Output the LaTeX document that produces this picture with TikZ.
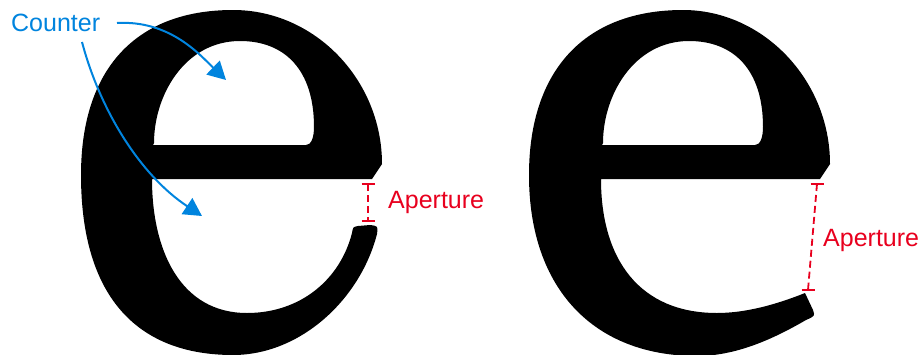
\documentclass[tikz,border=0pt]{standalone}
\usepackage{fontspec}
\setmainfont{Liberation Sans}
\usetikzlibrary{arrows.meta}
\definecolor{cblue}{RGB}{0,132,222}
\definecolor{cred}{RGB}{232,0,30}
\begin{document}
\begin{tikzpicture}[x=1pt,y=-1pt,
  glyph/.style={fill=black,even odd rule},
  counterarrow/.style={draw=cblue,line width=2pt,-{Triangle[length=18pt,width=19pt]}},
  apline/.style={draw=cred,line width=1.8pt,dash pattern=on 7pt off 4pt},
  apcap/.style={draw=cred,line width=1.8pt},
  lbl/.style={font=\fontsize{25}{30}\selectfont,inner sep=0pt,anchor=base west}]
\useasboundingbox (0,0) rectangle (922,354);
\begin{scope}
\clip (0,0) rectangle (922,354);
% left e
\fill[glyph] (372,179) -- (382,164)
  .. controls (382,80) and (315,10) .. (233,10)
  .. controls (135,10) and (81,70) .. (81,175)
  .. controls (81,300) and (140,355) .. (233,355)
  .. controls (300,355) and (360,300) .. (377,234)
  .. controls (378,226) .. (370,225) -- (358,226) .. controls (353,227) .. (352,233)
  .. controls (340,280) and (300,313) .. (247,313)
  .. controls (180,313) and (152,250) .. (152,179) -- cycle
  (153,145) -- (306,145) .. controls (311,145) and (314,138) .. (314,127)
  .. controls (314,70) and (285,41) .. (240,41)
  .. controls (185,41) and (154,95) .. (154,143) -- cycle;
% right e
\fill[glyph] (820,179) -- (830,164)
  .. controls (830,80) and (763,10) .. (683,10)
  .. controls (585,10) and (529,70) .. (529,175)
  .. controls (529,290) and (595,356) .. (697,356)
  .. controls (740,356) and (780,335) .. (806,320)
  .. controls (815,316) .. (813,310) -- (805,293)
  .. controls (775,305) and (745,313) .. (717,313)
  .. controls (640,313) and (601,260) .. (601,179) -- cycle
  (602,145) -- (755,145) .. controls (760,145) and (763,138) .. (763,127)
  .. controls (763,70) and (734,41) .. (689,41)
  .. controls (634,41) and (603,95) .. (603,143) -- cycle;
\end{scope}
% labels
\node[lbl,text=cblue] (counter) at (11,31.5) {Counter};
\node[lbl,text=cred] (ap1) at (388,208) {Aperture};
\node[lbl,text=cred] (ap2) at (823,246.5) {Aperture};
% counter arrows
\coordinate (c1s) at (117,23);
\coordinate (c1e) at (226,80);
\coordinate (c2s) at (82,42);
\coordinate (c2e) at (202,216);
\draw[counterarrow] (c1s) .. controls (170,20) and (200,55) .. (c1e);
\draw[counterarrow] (c2s) .. controls (100,110) and (140,175) .. (c2e);
% aperture markers
\coordinate (a1t) at (368,184);
\coordinate (a1b) at (368,221);
\coordinate (a2t) at (817,184);
\coordinate (a2b) at (808,290);
\draw[apline] (a1t) -- (a1b);
\draw[apcap] ([xshift=-6.5pt]a1t) -- ([xshift=6.5pt]a1t);
\draw[apcap] ([xshift=-6.5pt]a1b) -- ([xshift=6.5pt]a1b);
\draw[apline] (a2t) -- (a2b);
\draw[apcap] ([xshift=-6.5pt]a2t) -- ([xshift=6.5pt]a2t);
\draw[apcap] ([xshift=-6.5pt]a2b) -- ([xshift=6.5pt]a2b);
\end{tikzpicture}
\end{document}
